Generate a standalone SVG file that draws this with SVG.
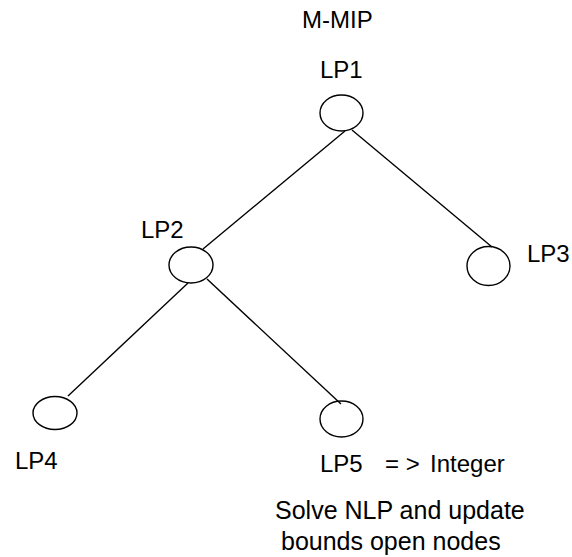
<svg xmlns="http://www.w3.org/2000/svg" width="572" height="557" viewBox="0 0 572 557">
<style>
.n{fill:none;stroke:#000;stroke-width:1.4}
.e{stroke:#000;stroke-width:1.4;fill:none}
text{font-family:"Liberation Sans",Arial,sans-serif;font-size:24px;fill:#000}
.note{font-size:25px}
</style>
<rect width="572" height="557" fill="#fff"/>
<g id="connectors">
<line class="e" x1="345" y1="131" x2="203" y2="249"/>
<line class="e" x1="352" y1="130" x2="492" y2="247"/>
<line class="e" x1="188" y1="283" x2="68" y2="396"/>
<line class="e" x1="207" y1="279" x2="341" y2="404"/>
</g>
<text id="title" x="302" y="28">M-MIP</text>
<g id="LP1"><ellipse class="n" cx="341.5" cy="113" rx="21.5" ry="18"/><text x="320" y="78">LP1</text></g>
<g id="LP2"><ellipse class="n" cx="191" cy="265" rx="22" ry="18"/><text x="141" y="238">LP2</text></g>
<g id="LP3"><ellipse class="n" cx="488.5" cy="266" rx="21.5" ry="19.5"/><text x="527" y="262">LP3</text></g>
<g id="LP4"><ellipse class="n" cx="55" cy="413" rx="22" ry="16.5"/><text x="15" y="469">LP4</text></g>
<g id="LP5"><ellipse class="n" cx="341.5" cy="419" rx="21.5" ry="18"/><text x="320" y="472">LP5<tspan x="385">= &gt;</tspan><tspan x="430">Integer</tspan></text></g>
<g id="note">
<text class="note" x="275" y="519">Solve NLP and update</text>
<text class="note" x="281" y="550">bounds open nodes</text>
</g>
</svg>
